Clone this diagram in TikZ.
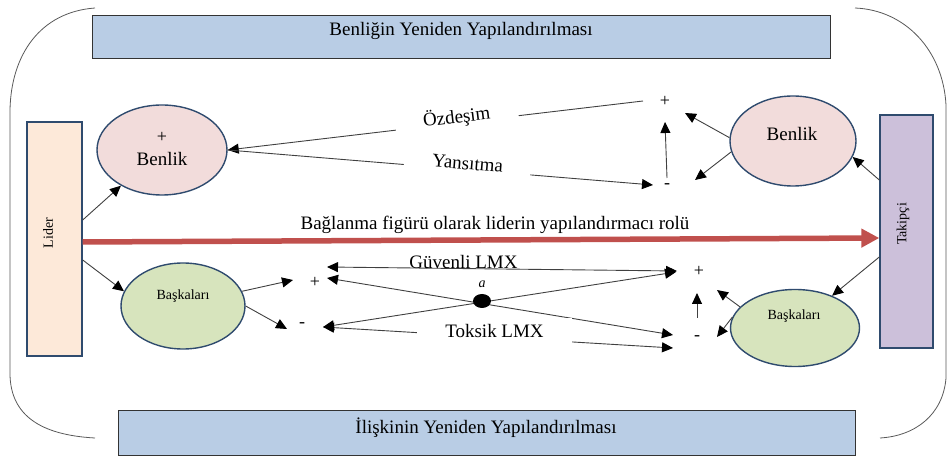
\documentclass[tikz,border=0pt]{standalone}
\usepackage{fontspec}
\setmainfont{Liberation Serif}
\usetikzlibrary{arrows.meta,shapes.geometric,calc}
\definecolor{navy}{HTML}{2F4B6E}
\definecolor{boxblue}{HTML}{B9CDE5}
\definecolor{peach}{HTML}{FDE9D9}
\definecolor{lav}{HTML}{CCC0DA}
\definecolor{pinkfill}{HTML}{F2DCDB}
\definecolor{greenfill}{HTML}{D7E4BD}
\definecolor{redarr}{HTML}{C0504D}
\begin{document}
\begin{tikzpicture}[x=1pt,y=-1pt,
 big/.style={font=\fontsize{19}{23}\selectfont},
 small/.style={font=\fontsize{14}{17}\selectfont},
 sign/.style={font=\fontsize{18}{18}\selectfont, inner sep=0pt},
 band/.style={draw=black!80, line width=0.9pt, fill=boxblue},
 ell/.style={ellipse, draw=navy, line width=1.4pt, inner sep=0pt},
 sidebox/.style={draw=navy, line width=1.4pt, inner sep=0pt},
 arr/.style={draw=black!75, line width=0.9pt, -{Triangle[length=11pt,width=10pt,color=black]}},
 darr/.style={draw=black!75, line width=0.9pt, {Triangle[length=11pt,width=10pt,color=black]}-{Triangle[length=11pt,width=10pt,color=black]}},
 gap/.style={fill=white, inner ysep=3pt},
 bracket/.style={draw=black!65, line width=0.8pt}
]
\useasboundingbox (0,0) rectangle (948,462);

% outer brackets
\draw[bracket] (95,8) .. controls (40,12) and (11,55) .. (10,110) -- (10,375) .. controls (11,415) and (40,435) .. (95,438);
\draw[bracket] (855,8) .. controls (905,10) and (943,50) .. (946,105) -- (946,378) .. controls (943,415) and (915,436) .. (880,438);

% bands
\node[band, minimum width=738pt, minimum height=43pt, anchor=north west] (topband) at (92,15) {};
\node[big] (toptext) at (461,31) {Benliğin Yeniden Yapılandırılması};
\node[band, minimum width=737pt, minimum height=45pt, anchor=north west] (botband) at (118,410) {};
\node[big] (bottext) at (486,428) {İlişkinin Yeniden Yapılandırılması};

% side boxes
\node[sidebox, fill=peach, minimum width=55pt, minimum height=234pt] (lider) at (54.5,239) {};
\node[small, rotate=90] (lidertext) at (48,233) {Lider};
\node[sidebox, fill=lav, minimum width=53pt, minimum height=233pt] (takip) at (906.5,231.5) {};
\node[small, rotate=90] (takiptext) at (903,224) {Takipçi};

% ellipses
\node[ell, fill=pinkfill, minimum width=130pt, minimum height=90pt] (benL) at (162,150) {};
\node[sign] (benLplus) at (162,137) {+};
\node[big] (benLtext) at (162,159) {Benlik};
\node[ell, fill=pinkfill, minimum width=126pt, minimum height=90pt] (benR) at (793,141) {};
\node[big] (benRtext) at (792,134) {Benlik};
\node[ell, fill=greenfill, minimum width=124pt, minimum height=86pt] (baskL) at (183,306) {};
\node[small] (baskLtext) at (183,296) {Başkaları};
\node[ell, fill=greenfill, minimum width=129pt, minimum height=77pt] (baskR) at (795,328) {};
\node[small] (baskRtext) at (794,316) {Başkaları};

% signs
\node[sign] (plusT) at (665,101) {+};
\node[sign] (minusT) at (667,186) {-};
\node[sign] (plusBL) at (315,282) {+};
\node[sign] (minusBL) at (302,325) {-};
\node[sign] (plusBR) at (699,271) {+};
\node[sign] (minusBR) at (697,338) {-};

% red main arrow
\draw[redarr, line width=5.5pt, -{Triangle[length=18pt,width=18pt]}] ($(lider.east)+(0,3)$) -- ($(takip.west)+(0,6.5)$);
\node[big] (bagl) at (495,225) {Bağlanma figürü olarak liderin yapılandırmacı rolü};

% leader / follower arrows
\draw[arr] ($(lider.east)+(0,-19)$) -- (benL.-139);
\draw[arr] ($(lider.east)+(0,21)$) -- (baskL.166);
\draw[arr] ($(takip.west)+(0,-51.5)$) -- (benR.-15);
\draw[arr] ($(takip.west)+(0,25.5)$) -- (baskR.41);

% self
\draw[arr] ($(plusT)+(-22,0)$) -- node[big, pos=0.447, sloped, anchor=base, gap, inner xsep=28pt] (ozd) {Özdeşim} (benL.east);
\draw[arr] (benL.east) -- node[big, pos=0.563, sloped, anchor=base, gap, inner xsep=28pt] (yans) {Yansıtma} ($(minusT)+(-14,-1)$);
\draw[arr] ($(minusT)+(0,-8)$) -- ($(plusT)+(0,21)$);
\draw[arr] (benR.177) -- ($(plusT)+(20,12)$);
\draw[arr] (benR.190) -- ($(minusT)+(28,-6)$);

% others
\draw[arr] (baskL.14) -- ($(plusBL)+(-22,-2)$);
\draw[arr] (baskL.east) -- ($(minusBL)+(-15,4)$);
\draw[arr] (baskR.159) -- ($(plusBR)+(18,19)$);
\draw[arr] (baskR.170) -- ($(minusBR)+(20,-1)$);
\draw[arr] ($(minusBR)+(0,-20)$) -- ($(plusBR)+(-2,22)$);

% LMX
\draw[darr] ($(plusBL)+(12,-15)$) -- node[big, pos=0.39, anchor=base] (guv) {Güvenli LMX} ($(plusBR)+(-22,0)$);
\draw[darr] ($(plusBL)+(12,-4)$) -- ($(minusBR)+(-24,-3)$);
\draw[darr] ($(minusBL)+(21,2)$) -- ($(plusBR)+(-23,1)$);
\draw[darr] ($(minusBL)+(21,2)$) -- node[big, pos=0.49, anchor=base, gap, inner xsep=28pt, inner ysep=6pt] (toks) {Toksik LMX} ($(minusBR)+(-24,10)$);

\node[ellipse, fill=black, minimum width=18pt, minimum height=14pt, inner sep=0pt] (dot) at (482,301) {};
\node[font=\itshape\fontsize{14}{14}\selectfont] (alab) at (482,284) {a};
\end{tikzpicture}
\end{document}
